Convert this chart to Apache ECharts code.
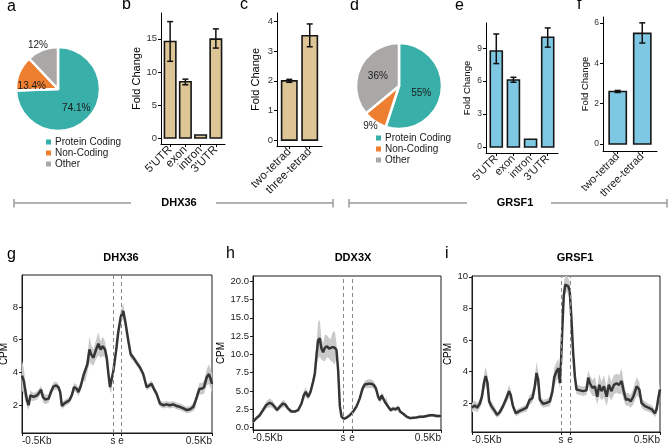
<!DOCTYPE html>
<html><head><meta charset="utf-8">
<script src="https://cdn.jsdelivr.net/npm/echarts@6/dist/echarts.min.js"></script>
<style>html,body{margin:0;padding:0;background:#fff}#c{width:668px;height:444px}</style>
</head><body><div id="c"></div>
<script>
// ---------- data ----------
const pieCats = ['Protein Coding', 'Non-Coding', 'Other'];
const pieA = [74.1, 13.4, 12];
const pieD = [55, 9, 36];

const regionCats = ["5'UTR", 'exon', 'intron', "3'UTR"];
const tetradCats = ['two-tetrad', 'three-tetrad'];

const bVal = [14.6, 8.5, 0.45, 14.95];
const bLow = [11.6, 8.05, 0.45, 13.6];
const bHigh = [17.6, 8.9, 0.45, 16.5];
const cVal = [2.0, 3.52];
const cLow = [1.95, 3.15];
const cHigh = [2.05, 3.92];
const eVal = [8.75, 6.1, 0.7, 10.0];
const eLow = [7.6, 5.9, 0.7, 9.1];
const eHigh = [10.3, 6.35, 0.7, 10.85];
const fVal = [2.6, 5.48];
const fLow = [2.55, 5.0];
const fHigh = [2.65, 6.0];

const bTicks = [0, 5, 10, 15];
const cTicks = [0, 1, 2, 3, 4];
const eTicks = [0, 3, 6, 9];
const fTicks = [0, 2, 4, 6];

// metaprofiles (x: 0 = -0.5Kb, 100 = 0.5Kb)
const gX = [0,0.9,2.6,3.5,4.4,6.1,7.9,9.3,10,11,12.2,14,15.2,16.6,18,19.2,20.1,21,22.2,23.6,25,26.2,27.4,28.8,29.7,31,32.3,33.2,34.4,35.5,36.4,37.6,39,40.2,41.4,42.5,43.7,44.6,45.5,46.3,46.9,48.1,49.5,50.7,52,53.3,54.5,56,57.2,58.6,60.3,62.1,63.8,65.6,67,68.2,69.4,70.8,72.6,74.3,76,77.8,79.5,81.3,83,85,86.7,88.5,90.2,91.1,92,93.4,94.6,95.8,97.2,98.4,99.3,100];
const gY = [3.8,3.5,2.3,2.0,2.6,2.5,2.6,2.8,2.95,2.5,2.35,2.4,2.8,3.15,3.2,3.1,2.8,1.95,2.1,2.2,2.3,2.6,3.1,3.0,2.8,3.2,3.8,3.7,4.5,5.4,5.1,4.9,5.4,5.75,5.4,5.6,5.4,4.9,3.9,3.1,3.0,4.1,5.3,6.5,7.4,7.75,7.0,5.9,5.1,4.9,4.6,4.3,3.9,3.1,3.2,3.3,3.0,2.7,2.1,2.0,2.05,2.0,2.05,1.95,1.9,1.8,1.7,1.75,1.9,2.0,2.5,3.0,3.0,3.1,3.7,3.9,3.6,3.3];
const gErr = [0.9,0.8,0.4,0.3,0.3,0.25,0.25,0.25,0.25,0.3,0.3,0.25,0.25,0.25,0.25,0.2,0.2,0.2,0.2,0.2,0.2,0.2,0.25,0.25,0.25,0.25,0.3,0.3,0.5,0.8,0.6,0.5,0.6,0.7,0.5,0.6,0.5,0.4,0.3,0.25,0.25,0.3,0.3,0.3,0.4,0.45,0.35,0.3,0.25,0.2,0.2,0.2,0.2,0.2,0.2,0.2,0.2,0.2,0.2,0.2,0.2,0.2,0.2,0.2,0.2,0.2,0.2,0.2,0.25,0.25,0.3,0.35,0.35,0.4,0.5,0.6,0.6,0.6];

const hX = [0,1.8,3.6,5.3,7.1,8.9,10.3,11.5,12.8,14.2,16,17.4,18.7,20.4,22.2,24,25.8,27,28.1,29.3,30.6,32,32.9,33.7,34.6,35.5,36.4,37.3,38.2,39.4,40.5,41.4,42.3,43.5,44.4,45.3,46.2,47.1,48.3,49.7,51.5,53.3,55.1,56.8,58.3,59.5,61.3,63.1,64.3,65.4,66.6,67.5,68.4,69.3,70.2,71,71.9,73.2,74.6,75.8,77.3,78.2,79.9,81.7,83.5,85.3,87,88.8,90.6,92.4,94.1,95.9,97.7,100];
const hY = [0.8,1.3,1.7,2.4,3.1,3.4,3.2,2.85,2.4,2.85,3.3,3.1,2.6,2.2,2.2,2.4,3.3,4.4,4.9,4.2,4.9,6.3,7.4,9.7,11.9,12.2,10.8,10.3,10.9,11.1,10.8,10.6,11.0,10.9,10.6,7.8,2.9,1.5,1.2,1.35,1.7,2.2,2.9,4.0,5.35,5.9,6.0,6.0,5.8,5.35,4.2,3.75,4.4,4.2,3.5,3.75,2.85,2.4,2.6,2.5,2.75,2.2,1.9,1.5,1.3,1.35,1.4,1.5,1.5,1.6,1.7,1.7,1.6,1.6];
const hErr = [0.2,0.2,0.3,0.4,0.5,0.6,0.5,0.4,0.3,0.4,0.5,0.4,0.3,0.2,0.2,0.2,0.4,0.6,0.6,0.4,0.5,0.6,0.8,1.5,2.5,2.5,1.5,1.2,1.8,1.5,1.4,1.5,2.0,2.3,1.0,0.6,0.3,0.2,0.15,0.15,0.15,0.2,0.25,0.3,0.4,0.5,0.6,0.6,0.5,0.4,0.4,0.4,0.4,0.4,0.35,0.4,0.35,0.3,0.3,0.3,0.3,0.25,0.2,0.2,0.2,0.2,0.2,0.2,0.2,0.2,0.2,0.2,0.2,0.2];

const iX = [0,1.4,2.7,4.1,5.3,6.4,7.3,8.2,9.1,10.3,12.1,13.3,14.7,16.5,18.3,19.7,20.6,21.8,23.3,25.4,27.2,29,30.7,32.1,33.4,34.3,35.2,36.1,37.8,39.6,41.4,42.8,43.7,44.9,46,46.7,47.4,48.1,48.8,49.6,50.3,51.2,52,52.9,53.8,54.7,55.6,57.4,59.1,60.9,61.8,62.7,64.1,65.4,66.6,67.7,68.9,70.2,71.6,72.8,74.2,75.5,76.9,78.2,79.6,80.5,81.9,83.1,84.4,85.8,87.6,89,90.2,92,93.8,95.6,97.3,98.2,99.1,100];
const iY = [1.7,1.85,1.7,1.95,2.4,3.3,3.7,3.3,2.1,1.8,1.5,1.25,1.4,1.8,2.3,2.75,2.5,1.8,1.35,1.5,1.6,1.7,2.2,2.3,3.05,3.9,3.5,2.2,1.95,2.0,2.1,2.75,3.6,4.0,4.2,3.25,4.75,6.9,8.8,9.5,9.6,9.4,9.1,7.3,5.2,3.7,2.85,2.8,2.75,2.8,3.6,3.25,2.95,3.05,2.4,3.15,2.75,3.05,2.4,3.15,2.75,3.15,3.25,3.15,3.4,2.85,2.2,2.25,2.1,2.4,3.05,2.85,2.0,1.8,1.7,1.6,1.35,1.6,2.3,2.85];
const iErr = [0.3,0.3,0.3,0.3,0.4,0.5,0.6,0.5,0.3,0.3,0.25,0.2,0.2,0.25,0.3,0.4,0.35,0.25,0.2,0.2,0.2,0.25,0.3,0.3,0.5,0.7,0.5,0.3,0.25,0.25,0.3,0.4,0.6,0.6,0.6,0.4,0.5,0.6,0.7,0.6,0.5,0.5,0.6,0.6,0.5,0.4,0.3,0.3,0.3,0.3,0.5,0.5,0.5,0.6,0.5,0.7,0.6,0.7,0.6,0.7,0.6,0.6,0.6,0.6,0.8,0.6,0.4,0.4,0.4,0.5,0.6,0.5,0.3,0.3,0.25,0.25,0.25,0.3,0.4,0.5];

const gSE = [47.9, 52.1];
const hSE = [47.9, 52.7];
const iSE = [47.3, 52.1];
const xEndLabels = ['-0.5Kb', '0.5Kb'];
const seLabels = ['s', 'e'];
const gTicks = [2, 4, 6, 8];
const hTicks = [0, 2.5, 5, 7.5, 10, 12.5, 15, 17.5, 20];
const iTicks = [2, 4, 6, 8, 10];

// ---------- style ----------
const FF = 'Liberation Sans, Arial, sans-serif';
const TEAL = '#38AFA8', ORANGE = '#EF7F30', GRAY = '#AAA7A7';
const TAN = '#DDC596', BLUE = '#7EC8E3';

const chart = echarts.init(document.getElementById('c'), null, {renderer: 'canvas'});

const grids = [], xAxes = [], yAxes = [], series = [];

function addBarPanel(box, cats, vals, lows, highs, ymin, ymax, ticks, color, opt) {
  const gi = grids.length;
  const n = cats.length;
  grids.push({left: box[0], top: box[1], width: box[2], height: box[3], containLabel: false, outerBoundsMode: 'none'});
  const pos = cats.map((c, i) => i + 1);
  xAxes.push({type: 'value', gridIndex: gi, min: 0.4, max: n + 0.6,
    axisLine: {show: true, onZero: false, lineStyle: {color: '#000', width: 1}},
    axisTick: {show: true, length: 3, customValues: pos, lineStyle: {color: '#000'}},
    axisLabel: {show: false},
    splitLine: {show: false}});
  yAxes.push({type: 'value', gridIndex: gi, min: ymin, max: ymax,
    axisLine: {show: true, onZero: false, lineStyle: {color: '#000', width: 1}},
    axisTick: {show: true, length: 3, customValues: ticks, lineStyle: {color: '#000'}},
    axisLabel: {customValues: ticks, margin: 4, fontSize: opt.tickFs, color: '#333', fontFamily: FF,
      hideOverlap: false, showMinLabel: true, showMaxLabel: true},
    splitLine: {show: false},
    name: 'Fold Change', nameLocation: 'middle', nameGap: opt.nameGap,
    nameTextStyle: {fontSize: opt.nameFs, color: '#000', fontFamily: FF}});
  // label-only category axis aligned with the category positions 1..n
  const unit = box[2] / (n + 0.2);
  const gl = grids.length;
  grids.push({left: box[0] + 0.1 * unit, top: box[1], width: n * unit, height: box[3], containLabel: false, outerBoundsMode: 'none'});
  xAxes.push({type: 'category', gridIndex: gl, data: cats, boundaryGap: true,
    axisLine: {show: false}, axisTick: {show: false}, splitLine: {show: false},
    axisLabel: {interval: 0, rotate: 45, margin: 4, fontSize: opt.catFs, color: '#1a1a1a', fontFamily: FF}});
  yAxes.push({type: 'value', gridIndex: gl, min: ymin, max: ymax, show: false});
  const w = opt.barW;
  series.push({type: 'custom', xAxisIndex: gi, yAxisIndex: gi, clip: false, z: 2,
    data: vals.map((v, i) => [i + 1, v]),
    renderItem: (p, api) => {
      const x = api.value(0), v = api.value(1);
      const a = api.coord([x - w / 2, v]), b = api.coord([x + w / 2, 0]);
      return {type: 'rect', shape: {x: a[0], y: a[1], width: b[0] - a[0], height: b[1] - a[1]},
        style: {fill: color, stroke: '#161616', lineWidth: 1.6}};
    }});
  series.push({type: 'custom', xAxisIndex: gi, yAxisIndex: gi, clip: false, z: 3,
    data: vals.map((v, i) => [i + 1, lows[i], highs[i]]),
    renderItem: (p, api) => {
      const x = api.value(0), lo = api.value(1), hi = api.value(2);
      if (hi - lo < 0.01) return null;
      const t = api.coord([x, hi]), b = api.coord([x, lo]);
      const cw = 3;
      const st = {stroke: '#111', lineWidth: 1.5};
      return {type: 'group', children: [
        {type: 'line', shape: {x1: t[0], y1: t[1], x2: b[0], y2: b[1]}, style: st},
        {type: 'line', shape: {x1: t[0] - cw, y1: t[1], x2: t[0] + cw, y2: t[1]}, style: st},
        {type: 'line', shape: {x1: b[0] - cw, y1: b[1], x2: b[0] + cw, y2: b[1]}, style: st}
      ]};
    }});
}

addBarPanel([161, 13, 64, 131], regionCats, bVal, bLow, bHigh, -0.9, 18.9, bTicks, TAN,
  {catFs: 11.5, tickFs: 9.5, nameFs: 11, nameGap: 17, barW: 0.75});
addBarPanel([277, 13, 45, 133], tetradCats, cVal, cLow, cHigh, -0.2, 4.29, cTicks, TAN,
  {catFs: 11.5, tickFs: 9.5, nameFs: 11, nameGap: 16, barW: 0.75});
addBarPanel([486, 23, 72, 130], regionCats, eVal, eLow, eHigh, -0.55, 11.3, eTicks, BLUE,
  {catFs: 11, tickFs: 8.5, nameFs: 9.5, nameGap: 14, barW: 0.7});
addBarPanel([603, 17, 54, 134], tetradCats, fVal, fLow, fHigh, -0.35, 6.29, fTicks, BLUE,
  {catFs: 11, tickFs: 8.5, nameFs: 9.5, nameGap: 12, barW: 0.7});

function addProfile(box, X, Y, E, SE, ymin, ymax, ticks, fmt, nameGap) {
  const gi = grids.length;
  grids.push({left: box[0], top: box[1], width: box[2], height: box[3], containLabel: false, outerBoundsMode: 'none',
    show: true, borderColor: '#1a1a1a', borderWidth: 1, backgroundColor: 'transparent'});
  const xPos = [0, SE[0], SE[1], 100];
  const xLab = [xEndLabels[0], seLabels[0], seLabels[1], xEndLabels[1]];
  xAxes.push({type: 'value', gridIndex: gi, min: 0, max: 100,
    axisLine: {show: true, onZero: false, lineStyle: {color: '#1a1a1a', width: 1}},
    axisTick: {show: true, length: 3, customValues: xPos, lineStyle: {color: '#1a1a1a'}},
    axisLabel: {customValues: xPos, margin: 3, fontSize: 10, color: '#222', fontFamily: FF,
      alignMinLabel: 'left', alignMaxLabel: 'right', hideOverlap: false,
      formatter: v => {
        let k = 0, d = 1e9;
        xPos.forEach((p, i) => { if (Math.abs(p - v) < d) { d = Math.abs(p - v); k = i; } });
        return xLab[k];
      }},
    splitLine: {show: false}});
  yAxes.push({type: 'value', gridIndex: gi, min: ymin, max: ymax,
    axisLine: {show: true, onZero: false, lineStyle: {color: '#1a1a1a', width: 1}},
    axisTick: {show: true, length: 3, customValues: ticks, lineStyle: {color: '#1a1a1a'}},
    axisLabel: {customValues: ticks, margin: 4, fontSize: 9.5, color: '#222', fontFamily: FF, formatter: fmt, hideOverlap: false},
    splitLine: {show: false},
    name: 'CPM', nameLocation: 'middle', nameGap: nameGap,
    nameTextStyle: {fontSize: 10, color: '#000', fontFamily: FF}});
  series.push({type: 'custom', xAxisIndex: gi, yAxisIndex: gi, z: 1, clip: true,
    data: [[X[0], Y[0]]],
    renderItem: (p, api) => {
      const pts = [];
      for (let i = 0; i < X.length; i++) pts.push(api.coord([X[i], Y[i] + E[i]]));
      for (let i = X.length - 1; i >= 0; i--) pts.push(api.coord([X[i], Y[i] - E[i]]));
      return {type: 'polygon', shape: {points: pts}, style: {fill: '#CACACA'}};
    }});
  series.push({type: 'line', xAxisIndex: gi, yAxisIndex: gi, z: 4,
    data: X.map((x, i) => [x, Y[i]]), showSymbol: false, symbol: 'none',
    lineStyle: {color: '#353535', width: 2.5}, itemStyle: {color: '#353535'},
    markLine: {silent: true, symbol: 'none', animation: false,
      lineStyle: {type: [4, 3], color: '#8a8a8a', width: 1},
      label: {show: false},
      data: SE.map(v => ({xAxis: v}))}});
}

addProfile([22, 275, 190, 158], gX, gY, gErr, gSE, 0.3, 9.95, gTicks, v => String(v), 12);
addProfile([253, 276, 188, 154], hX, hY, hErr, hSE, -0.32, 20.7, hTicks, v => v.toFixed(1), 26);
addProfile([472, 276, 188, 156], iX, iY, iErr, iSE, 0.16, 10.05, iTicks, v => String(v), 13);

function addPie(center, r, vals, outsideIdx, nudges) {
  series.push({type: 'pie', center: center, radius: r, startAngle: 90, clockwise: true,
    silent: true, animation: false,
    itemStyle: {borderColor: '#fff', borderWidth: 2.5},
    label: {show: true, position: 'inside', formatter: '{c}%', fontSize: 10, color: '#1a1a1a', fontFamily: FF},
    labelLine: {show: false, length: 4, length2: 0},
    labelLayout: p => ({dx: nudges[p.dataIndex][0], dy: nudges[p.dataIndex][1]}),
    data: vals.map((v, i) => ({value: v, name: pieCats[i],
      itemStyle: {color: [TEAL, ORANGE, GRAY][i]},
      label: i === outsideIdx ? {position: 'outside'} : {position: 'inside'}}))});
}
addPie([58, 89], 42, pieA, 2, [[1, 3], [-4, 6], [12, -1]]);
addPie([399, 86], 43, pieD, 1, [[-2, 3], [10, 1], [1, 1]]);

const legendBase = {orient: 'vertical', icon: 'rect', itemWidth: 7, itemHeight: 7, itemGap: 1, padding: 0,
  selectedMode: false, data: pieCats,
  textStyle: {fontSize: 10, color: '#1a1a1a', fontFamily: FF, padding: [0, 0, 0, -2]}};

// ---------- decorations ----------
const gfx = [];
function letter(t, x, y) {
  gfx.push({type: 'text', x: x, y: y, style: {text: t, font: '16px ' + FF, fill: '#000', textAlign: 'left', textVerticalAlign: 'middle'}});
}
letter('a', 7, 7); letter('b', 122, 5); letter('c', 240, 5); letter('d', 350, 6); letter('e', 455, 6); letter('f', 577, 5);
letter('g', 7, 255); letter('h', 226, 254); letter('i', 445, 254);
function bold(t, x, y) {
  gfx.push({type: 'text', x: x, y: y, style: {text: t, font: 'bold 11px ' + FF, fill: '#000', textAlign: 'center', textVerticalAlign: 'middle'}});
}
bold('DHX36', 179, 203); bold('GRSF1', 515, 203);
bold('DHX36', 121, 258); bold('DDX3X', 353, 258); bold('GRSF1', 575, 258);
function seg(x1, x2) {
  gfx.push({type: 'line', shape: {x1: x1, y1: 203, x2: x2, y2: 203}, style: {stroke: '#9a9a9a', lineWidth: 1.5}});
}
function tk(x) {
  gfx.push({type: 'line', shape: {x1: x, y1: 199, x2: x, y2: 207.5}, style: {stroke: '#9a9a9a', lineWidth: 1.5}});
}
seg(14, 131); seg(216, 333); seg(349, 467); seg(551, 667);
tk(14); tk(333); tk(349); tk(667);

chart.setOption({
  animation: false,
  backgroundColor: '#fff',
  textStyle: {fontFamily: FF},
  grid: grids, xAxis: xAxes, yAxis: yAxes, series: series,
  legend: [Object.assign({left: 44, top: 137}, legendBase), Object.assign({left: 374, top: 133}, legendBase)],
  graphic: gfx
});
</script></body></html>
